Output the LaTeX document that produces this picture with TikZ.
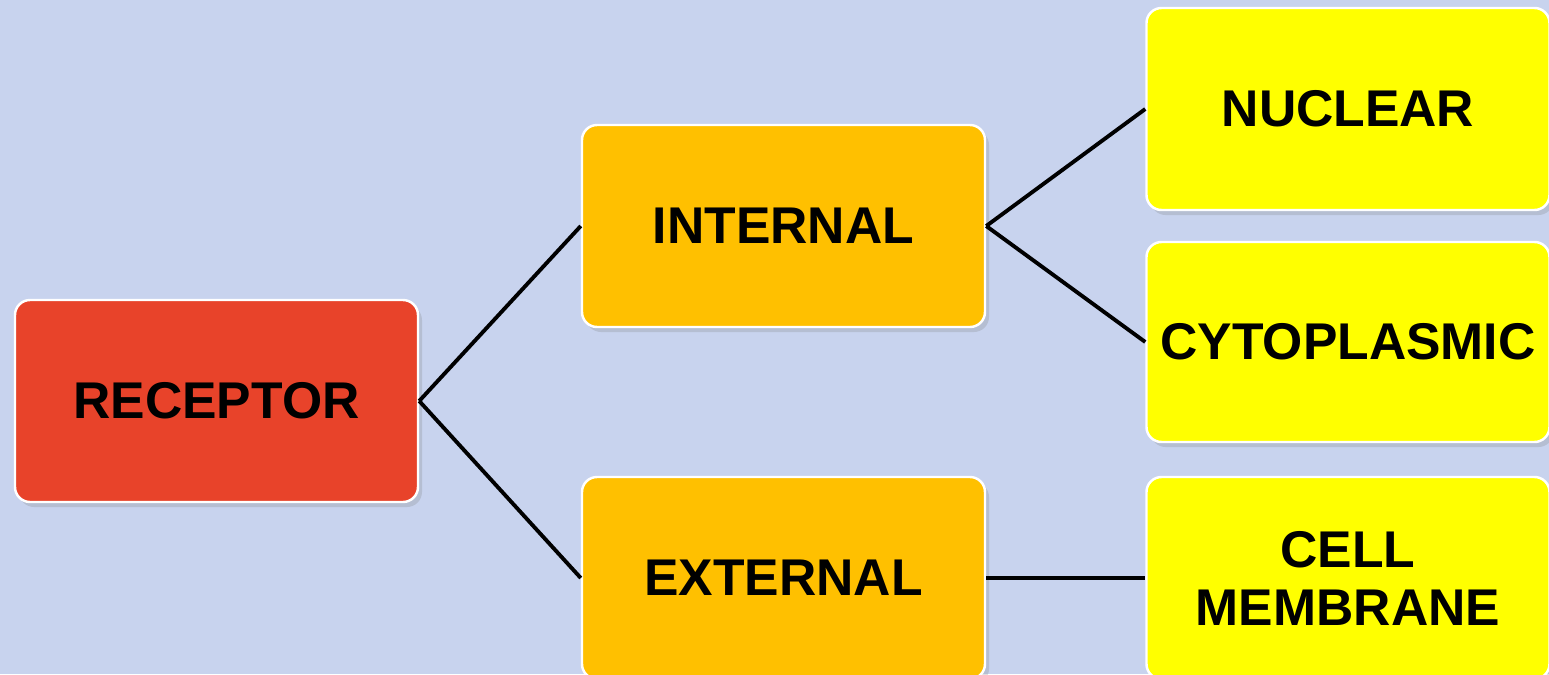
\documentclass[tikz,border=0pt]{standalone}
\usepackage{fontspec}
\setmainfont{Liberation Sans}
\usetikzlibrary{shadows}
\definecolor{bgblue}{RGB}{200,211,238}
\definecolor{recred}{RGB}{232,67,42}
\definecolor{boxorange}{RGB}{255,192,0}
\definecolor{boxyellow}{RGB}{255,255,0}

\begin{document}
\begin{tikzpicture}[
    box/.style={rectangle, rounded corners=0.15cm, draw=white, line width=0.7pt,
      minimum width=4.03cm, minimum height=2.02cm, align=center,
      font=\fontsize{14.7}{16.5}\selectfont\bfseries,
      drop shadow={opacity=0.25, shadow xshift=0.04cm, shadow yshift=-0.05cm}},
    link/.style={draw=black, line width=1.1pt}
  ]
      \useasboundingbox (0,0) rectangle (15.49,6.74);
      \clip (0,0) rectangle (15.49,6.74);
      \fill[bgblue] (0,0) rectangle (15.49,6.74);
      \draw
        (2.165,2.73) node[box, fill=recred] (receptor){RECEPTOR}
        (7.835,4.48) node[box, fill=boxorange] (internal){INTERNAL}
        (7.835,0.96) node[box, fill=boxorange] (external){EXTERNAL}
        (13.48,5.65) node[box, fill=boxyellow] (nuclear){NUCLEAR}
        (13.48,3.32) node[box, fill=boxyellow, minimum height=2.0cm] (cytoplasmic){CYTOPLASMIC}
        (13.48,0.96) node[box, fill=boxyellow] (membrane){CELL\\MEMBRANE};
      \begin{scope}[link]
        \draw (receptor.east) to (internal.west);
        \draw (receptor.east) to (external.west);
        \draw (internal.east) to (nuclear.west);
        \draw (internal.east) to (cytoplasmic.west);
        \draw (external.east) to (membrane.west);
      \end{scope}
    \end{tikzpicture}
\end{document}
